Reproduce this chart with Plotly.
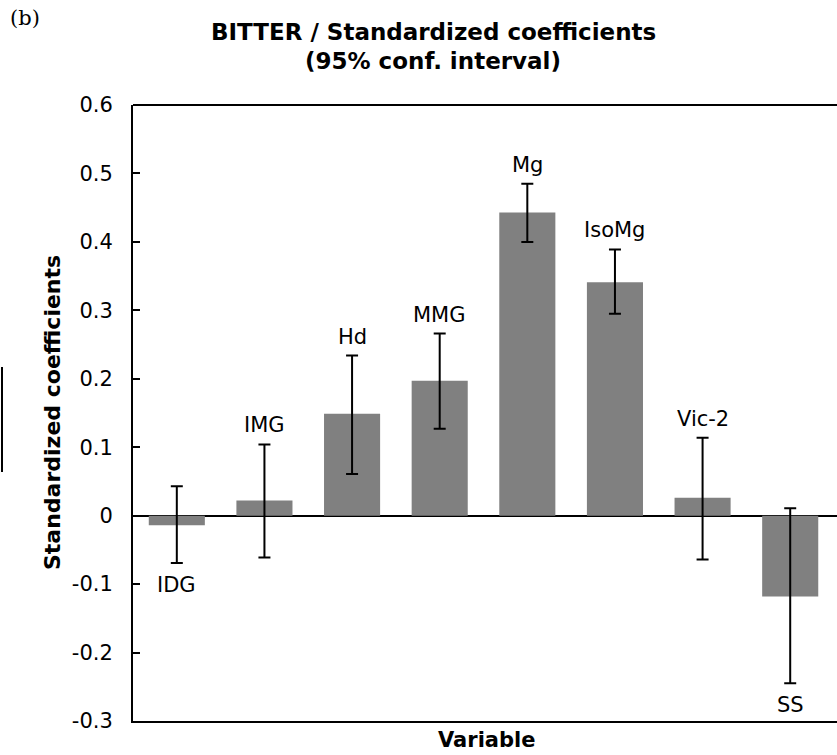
import plotly.graph_objects as go

categories = ["IDG", "IMG", "Hd", "MMG", "Mg", "IsoMg", "Vic-2", "SS"]
coefficients = [-0.014, 0.022, 0.149, 0.197, 0.443, 0.341, 0.026, -0.118]
ci_upper = [0.043, 0.104, 0.234, 0.266, 0.485, 0.389, 0.114, 0.011]
ci_lower = [-0.069, -0.061, 0.061, 0.127, 0.400, 0.295, -0.064, -0.245]
label_below = [True, False, False, False, False, False, False, True]
y_ticks = [-0.3, -0.2, -0.1, 0, 0.1, 0.2, 0.3, 0.4, 0.5, 0.6]
y_tick_text = ["-0.3", "-0.2", "-0.1", "0", "0.1", "0.2", "0.3", "0.4", "0.5", "0.6"]

W, H = 837, 755
L, T, B = 133, 105, 34
plot_w = W - L
def px_x(px):
    return (px - L) / plot_w
def px_y(py):
    return 1 - (py - T) / (H - T - B)

err_plus = [u - v for u, v in zip(ci_upper, coefficients)]
err_minus = [v - l for v, l in zip(coefficients, ci_lower)]

FONT = "DejaVu Sans, Arial, sans-serif"

fig = go.Figure()
fig.add_trace(go.Bar(
    x=list(range(len(categories))), y=coefficients, width=0.64,
    marker=dict(color="#808080", line=dict(width=0)),
    error_y=dict(type="data", symmetric=False, array=err_plus, arrayminus=err_minus,
                 color="black", thickness=2, width=6),
    showlegend=False, hoverinfo="skip",
))

annotations = []
for i, (name, below) in enumerate(zip(categories, label_below)):
    if below:
        annotations.append(dict(x=i, y=ci_lower[i], xref="x", yref="y", text=name,
                                showarrow=False, yanchor="top", yshift=-8,
                                font=dict(family=FONT, size=21, color="black")))
    else:
        annotations.append(dict(x=i, y=ci_upper[i], xref="x", yref="y", text=name,
                                showarrow=False, yanchor="bottom", yshift=5,
                                font=dict(family=FONT, size=21, color="black")))

annotations += [
    dict(x=px_x(433), y=px_y(32), xref="paper", yref="paper", xanchor="center", yanchor="middle",
         text="<b>BITTER / Standardized coefficients</b>", showarrow=False,
         font=dict(family=FONT, size=23, color="black")),
    dict(x=px_x(433), y=px_y(61), xref="paper", yref="paper", xanchor="center", yanchor="middle",
         text="<b>(95% conf. interval)</b>", showarrow=False,
         font=dict(family=FONT, size=23, color="black")),
    dict(x=px_x(8), y=px_y(18), xref="paper", yref="paper", xanchor="left", yanchor="middle",
         text="(b)", showarrow=False,
         font=dict(family="DejaVu Serif, Liberation Serif, serif", size=21, color="black")),
    dict(x=px_x(52), y=px_y(413), xref="paper", yref="paper", xanchor="center", yanchor="middle",
         text="<b>Standardized coefficients</b>", showarrow=False, textangle=-90,
         font=dict(family=FONT, size=22, color="black")),
    dict(x=px_x(486), y=px_y(740), xref="paper", yref="paper", xanchor="center", yanchor="middle",
         text="<b>Variable</b>", showarrow=False,
         font=dict(family=FONT, size=21, color="black")),
]

shapes = [
    dict(type="line", xref="paper", yref="paper", x0=0, x1=1, y0=1, y1=1,
         line=dict(color="black", width=2)),
    dict(type="line", xref="paper", yref="paper", x0=px_x(2), x1=px_x(2), y0=px_y(367), y1=px_y(472),
         line=dict(color="black", width=2)),
]

fig.update_layout(
    width=W, height=H,
    margin=dict(l=L, r=0, t=T, b=B),
    paper_bgcolor="white", plot_bgcolor="white",
    xaxis=dict(range=[-0.5, 7.534], showticklabels=False, ticks="", showgrid=False,
               zeroline=False, showline=True, linecolor="black", linewidth=2),
    yaxis=dict(range=[-0.3, 0.6], tickvals=y_ticks, ticktext=y_tick_text,
               ticks="inside", ticklen=7, tickcolor="black", tickwidth=1.5,
               showgrid=False, zeroline=True, zerolinecolor="black", zerolinewidth=2,
               showline=True, linecolor="black", linewidth=2,
               ticklabelstandoff=14,
               tickfont=dict(family=FONT, size=21, color="black")),
    annotations=annotations,
    shapes=shapes,
)

fig.write_html("out.html")
